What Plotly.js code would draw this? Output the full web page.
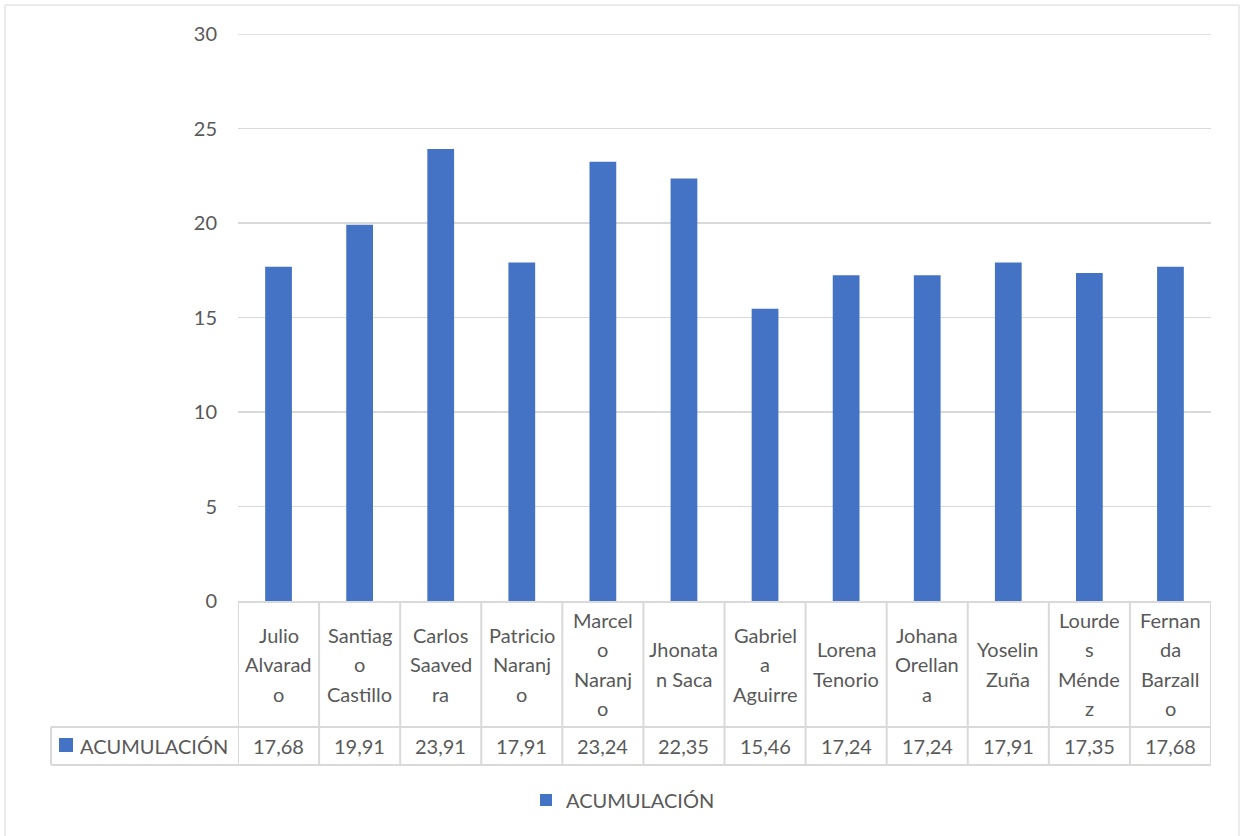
<!DOCTYPE html>
<html>
<head>
<meta charset="utf-8">
<script src="https://cdn.plot.ly/plotly-3.0.1.min.js"></script>
<style>html,body{margin:0;padding:0;background:#fff;}#chart{width:1243px;height:836px;}</style>
</head>
<body>
<div id="chart"></div>
<script>
// ---- data ----
const categories = ["Julio Alvarado","Santiago Castillo","Carlos Saavedra","Patricio Naranjo","Marcelo Naranjo","Jhonatan Saca","Gabriela Aguirre","Lorena Tenorio","Johana Orellana","Yoselin Zuña","Lourdes Méndez","Fernanda Barzallo"];
const tickLabels = ["Julio\nAlvarad\no","Santiag\no\nCastillo","Carlos\nSaaved\nra","Patricio\nNaranj\no","Marcel\no\nNaranj\no","Jhonata\nn Saca","Gabriel\na\nAguirre","Lorena\nTenorio","Johana\nOrellan\na","Yoselin\nZuña","Lourde\ns\nMénde\nz","Fernan\nda\nBarzall\no"];
const values = [17.68,19.91,23.91,17.91,23.24,22.35,15.46,17.24,17.24,17.91,17.35,17.68];
const seriesName = "ACUMULACIÓN";
const yTickVals = [0,5,10,15,20,25,30];

// ---- layout helpers ----
const W = 1243, H = 836;
const L = 238, R = 1211, T = 34, B = 601;
const px2x = p => (p - L) / (R - L);
const px2y = p => (B - p) / (B - T);
const FONT = "Lato, 'Open Sans', sans-serif";
const TXT = "#595959";
const LINE = "#d9d9d9";
const BAR = "#4472C4";
const FS = 20;

const fmt = v => v.toFixed(2).replace('.', ',');

const annotations = [];
const shapes = [];

// top gridline (at the axis maximum, which plotly skips at the edge)
shapes.push({type: 'line', xref: 'paper', yref: 'y', x0: 0, x1: 1,
  y0: yTickVals[yTickVals.length - 1], y1: yTickVals[yTickVals.length - 1],
  line: {color: LINE, width: 1.5}});

// header labels (category names), wrapped like the source
categories.forEach((c, i) => {
  const lines = tickLabels[i].split('\n');
  const n = lines.length;
  lines.forEach((ln, j) => {
    annotations.push({
      xref: 'x', yref: 'paper', x: c, y: px2y(664 + (j - (n - 1) / 2) * 29.5),
      text: ln, showarrow: false, xanchor: 'center', yanchor: 'middle',
      font: {family: FONT, size: FS, color: TXT}
    });
  });
  annotations.push({
    xref: 'x', yref: 'paper', x: c, y: px2y(746),
    text: fmt(values[i]), showarrow: false, xanchor: 'center', yanchor: 'middle',
    font: {family: FONT, size: FS, color: TXT}
  });
});

// legend key cell of data table
annotations.push({
  xref: 'paper', yref: 'paper', x: px2x(78), y: px2y(746),
  text: seriesName, showarrow: false, xanchor: 'left', yanchor: 'middle',
  font: {family: FONT, size: FS, color: TXT}
});
shapes.push({type: 'rect', xref: 'paper', yref: 'paper',
  x0: px2x(59), x1: px2x(73), y0: px2y(738), y1: px2y(752),
  fillcolor: BAR, line: {width: 0}});

// table grid lines
for (let k = 0; k <= categories.length; k++) {
  shapes.push({type: 'line', xref: 'x', yref: 'paper', x0: k - 0.5, x1: k - 0.5,
    y0: px2y(601), y1: px2y(765), line: {color: LINE, width: 2}});
}
[727, 765].forEach(yp => shapes.push({type: 'line', xref: 'paper', yref: 'paper',
  x0: px2x(51), x1: 1, y0: px2y(yp), y1: px2y(yp), line: {color: LINE, width: 2}}));
shapes.push({type: 'line', xref: 'paper', yref: 'paper', x0: px2x(51), x1: px2x(51),
  y0: px2y(727), y1: px2y(765), line: {color: LINE, width: 2}});

// outer chart frame
shapes.push({type: 'rect', xref: 'paper', yref: 'paper',
  x0: px2x(5), x1: px2x(1239), y0: px2y(5), y1: px2y(900),
  line: {color: LINE, width: 1}, fillcolor: 'rgba(0,0,0,0)'});

const trace = {
  type: 'bar', x: categories, y: values, name: seriesName,
  marker: {color: BAR}, showlegend: true
};

const layout = {
  width: W, height: H,
  margin: {l: L, r: W - R, t: T, b: H - B},
  paper_bgcolor: '#fff', plot_bgcolor: '#fff',
  bargap: 0.67,
  separators: ',.',
  font: {family: FONT, size: FS, color: TXT},
  xaxis: {type: 'category', showticklabels: false, ticks: '', showgrid: false,
    showline: true, linecolor: LINE, linewidth: 2, zeroline: false, range: [-0.5, 11.5]},
  yaxis: {range: [0, 30], tickvals: yTickVals, showgrid: true, gridcolor: LINE, gridwidth: 1.5,
    zeroline: false, showline: false, ticks: 'outside', ticklen: 16, tickcolor: 'rgba(0,0,0,0)',
    tickfont: {family: FONT, size: FS, color: TXT}},
  showlegend: true,
  legend: {orientation: 'h', x: px2x(623), xanchor: 'center', y: px2y(800), yanchor: 'middle',
    font: {family: FONT, size: FS, color: TXT}},
  annotations: annotations,
  shapes: shapes
};

Plotly.newPlot('chart', [trace], layout, {displayModeBar: false, staticPlot: true});
</script>
</body>
</html>
